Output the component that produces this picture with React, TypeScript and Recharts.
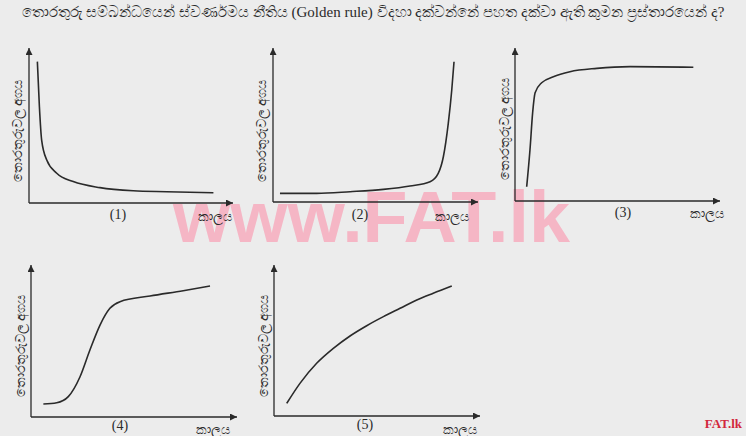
import React from "react";
import { LineChart, Line, XAxis, YAxis } from "recharts";

const titleText =
  "තොරතුරු සම්බන්ධයෙන් ස්වර්ණමය නීතිය (Golden rule) විදහා දක්වන්නේ පහත දක්වා ඇති කුමන ප්‍රස්තාරයෙන් ද?";
const yLabelText = "තොරතුරුවල අගය";
const xLabelText = "කාලය";
const chartNumbers = ["(1)", "(2)", "(3)", "(4)", "(5)"];

const x1 = [4.1, 5.1, 6.2, 8.7, 13.6, 21.7, 34.8, 51.1, 67.5, 90.4];
const y1 = [91.2, 62.1, 40.6, 27.7, 19.2, 13.8, 9.9, 7.9, 7.3, 6.6];

const x2 = [3.4, 21.3, 37.6, 53.8, 66.8, 76.6, 80.6, 83.1, 85.5, 87.2, 88.3];
const y2 = [5.6, 5.6, 6.7, 8.2, 10.4, 13.2, 18.6, 29.4, 51.1, 72.7, 91.1];

const x3 = [5.7, 7.3, 8.6, 9.8, 13.0, 18.7, 26.8, 39.9, 56.1, 87.0];
const y3 = [9.3, 33.3, 57.6, 70.7, 77.3, 81.2, 84.5, 86.7, 87.8, 87.4];

const x4 = [6.0, 12.5, 18.1, 23.8, 28.6, 33.5, 38.3, 43.2, 57.8, 73.9, 86.9];
const y4 = [8.6, 9.4, 13.4, 26.5, 44.1, 60.5, 71.5, 75.9, 79.6, 83.1, 86.2];

const x5 = [6.2, 12.6, 20.7, 28.8, 36.9, 45.0, 53.1, 61.2, 69.3, 77.3, 86.3];
const y5 = [8.4, 21.6, 34.9, 44.8, 53.0, 59.8, 65.8, 71.3, 76.8, 81.3, 86.1];

const toRows = (xs: number[], ys: number[]) => xs.map((x, i) => ({ x, y: ys[i] }));

type Frame = {
  ox: number; oy: number; xe: number; yt: number;
  numX: number; numY: number; kalX: number; kalY: number; ylX: number; ylY: number;
};

const frames: Frame[] = [
  { ox: 29, oy: 203, xe: 233, yt: 48, numX: 118, numY: 215, kalX: 215, kalY: 217, ylX: 18, ylY: 131 },
  { ox: 273, oy: 202, xe: 478, yt: 48, numX: 360, numY: 215, kalX: 452, kalY: 217, ylX: 262, ylY: 131 },
  { ox: 515, oy: 201, xe: 720, yt: 48, numX: 623, numY: 213, kalX: 707, kalY: 214, ylX: 505, ylY: 129 },
  { ox: 31, oy: 417, xe: 237, yt: 265, numX: 120, numY: 426, kalX: 213, kalY: 430, ylX: 21, ylY: 346 },
  { ox: 274, oy: 416, xe: 480, yt: 265, numX: 365, numY: 425, kalX: 460, kalY: 430, ylX: 264, ylY: 346 },
];

const seriesData = [toRows(x1, y1), toRows(x2, y2), toRows(x3, y3), toRows(x4, y4), toRows(x5, y5)];

const M = 10;
const ink = "#2a2a2a";
const serif = "'Liberation Serif', 'DejaVu Serif', serif";

function SmallChart({ f, data, idx }: { f: Frame; data: { x: number; y: number }[]; idx: number }) {
  const w = f.xe - f.ox + 1 + 2 * M;
  const h = f.oy - f.yt + 1 + 2 * M;
  const mid = `arrow${idx}`;
  return (
    <div style={{ position: "absolute", left: f.ox - 1 - M, top: f.yt - M, width: w, height: h }}>
      <LineChart width={w} height={h} data={data} margin={{ top: M, right: M, left: M, bottom: M }}>
        <defs>
          <marker
            id={mid}
            viewBox="0 0 10 10"
            refX="10"
            refY="5"
            markerWidth="10"
            markerHeight="7"
            orient="auto-start-reverse"
            markerUnits="userSpaceOnUse"
          >
            <path d="M0,0 L10,5 L0,10 z" fill={ink} />
          </marker>
        </defs>
        <XAxis
          dataKey="x"
          type="number"
          domain={[0, 100]}
          allowDataOverflow
          height={1}
          tick={false}
          tickLine={false}
          axisLine={{ stroke: ink, strokeWidth: 1.3, markerEnd: `url(#${mid})` } as any}
        />
        <YAxis
          dataKey="y"
          type="number"
          domain={[0, 100]}
          allowDataOverflow
          width={1}
          tick={false}
          tickLine={false}
          axisLine={{ stroke: ink, strokeWidth: 1.3, markerStart: `url(#${mid})` } as any}
        />
        <Line
          type="monotone"
          dataKey="y"
          stroke={ink}
          strokeWidth={1.6}
          dot={false}
          isAnimationActive={false}
        />
      </LineChart>
    </div>
  );
}

export default function App() {
  return (
    <div
      style={{
        position: "absolute",
        left: 0,
        top: 0,
        width: 746,
        height: 436,
        overflow: "hidden",
        background: "#ececec",
        fontFamily: serif,
        color: ink,
      }}
    >
      <svg width={746} height={436} style={{ position: "absolute", left: 0, top: 0 }}>
        <text
          x={173}
          y={242}
          fontFamily="'Liberation Sans', Arial, sans-serif"
          fontWeight="bold"
          fontSize={72}
          fill="#f5b6c5"
          textLength={397}
          lengthAdjust="spacingAndGlyphs"
        >
          www.FAT.lk
        </text>
      </svg>
      <div
        style={{
          position: "absolute",
          left: 0,
          top: 2,
          width: 746,
          textAlign: "center",
          fontSize: 15,
          whiteSpace: "nowrap",
          lineHeight: "20px",
        }}
      >
        {titleText}
      </div>
      {frames.map((f, i) => (
        <React.Fragment key={i}>
          <SmallChart f={f} data={seriesData[i]} idx={i} />
          <div
            style={{
              position: "absolute",
              left: f.numX - 20,
              top: f.numY - 9,
              width: 40,
              textAlign: "center",
              fontSize: 14,
              lineHeight: "18px",
            }}
          >
            {chartNumbers[i]}
          </div>
          <div
            style={{
              position: "absolute",
              left: f.kalX - 30,
              top: f.kalY - 9,
              width: 60,
              textAlign: "center",
              fontSize: 13,
              lineHeight: "18px",
            }}
          >
            {xLabelText}
          </div>
          <div
            style={{
              position: "absolute",
              left: f.ylX - 60,
              top: f.ylY - 9,
              width: 120,
              textAlign: "center",
              fontSize: 13,
              lineHeight: "18px",
              transform: "rotate(-90deg)",
              whiteSpace: "nowrap",
            }}
          >
            {yLabelText}
          </div>
        </React.Fragment>
      ))}
      <div
        style={{
          position: "absolute",
          left: 690,
          top: 416,
          width: 52,
          textAlign: "right",
          fontSize: 13,
          fontWeight: "bold",
          color: "#d2283c",
          lineHeight: "16px",
        }}
      >
        FAT.lk
      </div>
    </div>
  );
}
